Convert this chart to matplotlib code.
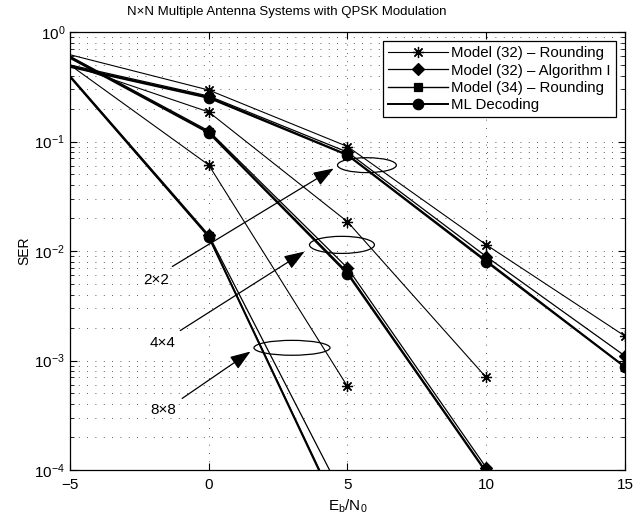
import numpy as np
import matplotlib
matplotlib.use('Agg')
import matplotlib.pyplot as plt
from matplotlib.patches import Ellipse

plt.rcParams['font.family'] = ['Liberation Sans', 'DejaVu Sans']
plt.rcParams['mathtext.fontset'] = 'custom'
plt.rcParams['mathtext.rm'] = 'Liberation Sans'
plt.rcParams['mathtext.it'] = 'Liberation Sans'

nan = np.nan
snr = [-5, 0, 5, 10, 15]

# 2x2
r32_2 = [0.62, 0.295, 0.090, 0.0114, 0.00167]
alg_2 = [0.50, 0.26, 0.080, 0.0089, 0.0011]
r34_2 = [0.49, 0.255, 0.076, 0.0082, 0.00088]
ml_2 = [0.48, 0.25, 0.075, 0.0080, 0.00087]

# 4x4
r32_4 = [0.50, 0.186, 0.0185, 0.0007, nan]
alg_4 = [0.60, 0.125, 0.0070, 0.000105, nan]
r34_4 = [0.59, 0.122, 0.0064, 0.000097, nan]
ml_4 = [0.58, 0.120, 0.0062, 0.000095, nan]

# 8x8
r32_8 = [0.50, 0.061, 0.00058, nan, nan]
alg_8 = [0.40, 0.0140, 4.8e-5, nan, nan]
r34_8 = [0.39, 0.0136, 2.9e-5, nan, nan]
ml_8 = [0.39, 0.0135, 2.8e-5, nan, nan]

labels = ['Model (32) \u2013 Rounding', 'Model (32) \u2013 Algorithm I',
          'Model (34) \u2013 Rounding', 'ML Decoding']
markers = [(8, 2, 0), 'D', 's', 'o']
sizes = [8, 6.5, 6, 7.5]
widths = [0.8, 0.9, 1.0, 1.4]

fig = plt.figure(figsize=(6.34, 5.16), dpi=100)
ax = fig.add_axes([0.1104, 0.0891, 0.8754, 0.8489])

groups = [[r32_2, alg_2, r34_2, ml_2],
          [r32_4, alg_4, r34_4, ml_4],
          [r32_8, alg_8, r34_8, ml_8]]
for g, group in enumerate(groups):
    for i, ser in enumerate(group):
        ax.semilogy(snr, ser, color='k', lw=widths[i], marker=markers[i],
                    ms=sizes[i], mfc='k', mec='k', mew=0.9,
                    markevery=slice(1, None),
                    label=labels[i] if g == 0 else None)

ax.set_xlim(-5, 15)
ax.set_ylim(1e-4, 1)
ax.set_xticks([-5, 0, 5, 10, 15])
ax.grid(True, which='major', color='0.15', ls=(0, (1, 9)), lw=0.6)
ax.grid(True, which='minor', axis='y', color='0.15', ls=(0, (1, 9)), lw=0.6)
ax.tick_params(which='both', direction='in', top=True, right=True, labelsize=11)
ax.tick_params(which='major', length=5)
ax.tick_params(axis='x', pad=6)
ax.tick_params(which='minor', length=3)
for s in ax.spines.values():
    s.set_linewidth(0.9)

fig.text(287 / 634, 1 - 12 / 516, 'N\u00d7N Multiple Antenna Systems with QPSK Modulation',
         fontsize=9.5, ha='center', va='center')
ax.set_xlabel('E$_\\mathrm{b}$/N$_\\mathrm{0}$', fontsize=11, labelpad=4)
ax.set_ylabel('SER', fontsize=10, labelpad=2)

leg = ax.legend(loc='upper right', fontsize=10.8, frameon=True, fancybox=False,
                edgecolor='k', framealpha=1, borderaxespad=0.6, handlelength=4,
                handletextpad=0.2, labelspacing=0.22, borderpad=0.35)
leg.get_frame().set_linewidth(0.9)

# group annotations
ells = [(0.535, 0.696, 0.106, 0.034), (0.490, 0.514, 0.117, 0.039), (0.400, 0.279, 0.137, 0.034)]
for cx, cy, w, h in ells:
    ax.add_patch(Ellipse((cx, cy), w, h, transform=ax.transAxes, fill=False, ec='k', lw=0.9))

arrows = [('2\u00d72', (4.59, 0.0585), (-1.40, 0.0070), (-1.90, 0.00543)),
          ('4\u00d74', (3.54, 0.0102), (-1.11, 0.00182), (-1.65, 0.00145)),
          ('8\u00d78', (1.59, 0.00125), (-1.04, 4.36e-4), (-1.65, 3.5e-4))]
for txt, tip, start, lab in arrows:
    ax.annotate('', xy=tip, xytext=start,
                arrowprops=dict(arrowstyle='-|>,head_length=0.7,head_width=0.25',
                                color='k', lw=0.9, mutation_scale=18))
    ax.text(lab[0], lab[1], txt, fontsize=11, ha='center', va='center')

fig.savefig('out.png', dpi=100)
